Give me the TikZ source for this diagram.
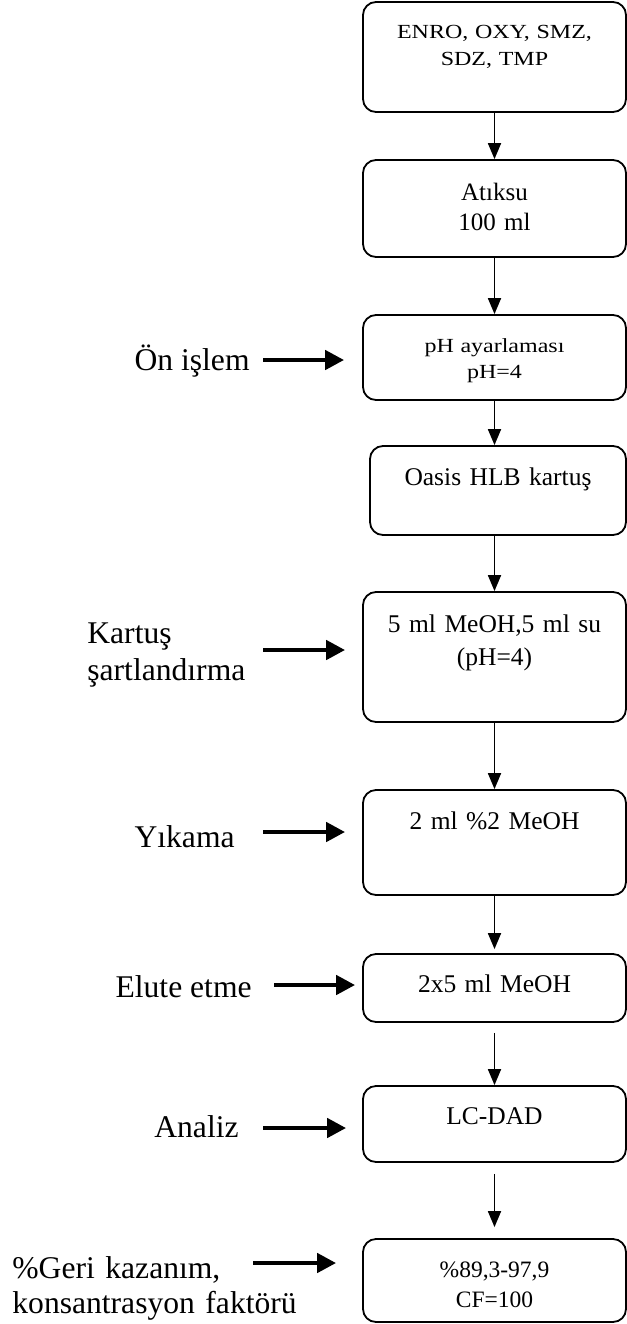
\documentclass[tikz,border=0pt]{standalone}
\usepackage{fontspec}
\setmainfont{Liberation Serif}
\newfontfamily\widefont[FakeStretch=1.2]{Liberation Serif}
\usetikzlibrary{arrows.meta, positioning}
\tikzset{
    flowchart/.style={x=0.5pt, y=-0.5pt, node distance=24pt},
    stepbox/.style={draw, line width=0.9pt, rounded corners=6.5pt, minimum width=131.5pt, text width=118pt, align=center, inner ysep=10pt, text height=9pt, font=\fontsize{12.75}{15.5}\selectfont},
    smallbox/.style={stepbox, font=\widefont\fontsize{10}{13.5}\selectfont},
    sidelabel/.style={inner sep=0pt, align=left, font=\fontsize{15.8}{18.5}\selectfont},
    flowarrow/.style={-{Triangle[length=8pt, width=6.5pt]}, line width=0.9pt},
    sidearrow/.style={-{Triangle[length=9.5pt, width=9.5pt]}, line width=2.25pt},
}
\begin{document}
\begin{tikzpicture}[flowchart]
    \useasboundingbox (0,0) rectangle (627,1324);

    % main column
    \node[smallbox, text height=8pt, text depth=27pt]                   (b1) at (494.5,57) {ENRO, OXY, SMZ,\\SDZ, TMP};
    \node[stepbox, below=23.1pt of b1, text height=10pt, text depth=18.5pt, font=\fontsize{12.5}{15}\selectfont] (b2) {Atıksu\\100 ml};
    \node[smallbox, below=28.1pt of b2, text height=8.5pt, text depth=14pt, font=\widefont\fontsize{10}{13}\selectfont] (b3) {pH ayarlaması\\pH=4};
    \node[stepbox, below=22.1pt of b3, xshift=1.75pt, minimum width=128pt, text height=9.5pt, text depth=15pt] (b4) {Oasis HLB kartuş};
    \node[stepbox, below=27.6pt of b4, xshift=-1.75pt, text height=10pt, text depth=35pt, font=\fontsize{12.75}{16.5}\selectfont] (b5) {5 ml MeOH,5 ml su\\(pH=4)};
    \node[stepbox, below=33.1pt of b5, text height=9.5pt, text depth=23pt] (b6) {2 ml \%2 MeOH};
    \node[stepbox, below=28.6pt of b6, text depth=5pt]                  (b7) {2x5 ml MeOH};
    \node[stepbox, below=31.1pt of b7, text depth=9pt]                  (b8) {LC-DAD};
    \node[stepbox, below=37.6pt of b8, text depth=12.5pt, font=\fontsize{11.75}{15}\selectfont] (b9) {\%89,3-97,9\\CF=100};

    \draw[flowarrow] (b1) -- (b2);
    \draw[flowarrow] (b2) -- (b3);
    \draw[flowarrow] (b3) -- (b3 |- b4.north);
    \draw[flowarrow] (b4.south -| b5) -- (b5);
    \draw[flowarrow] (b5) -- (b6);
    \draw[flowarrow, shorten >=2pt] (b6) -- (b7);
    \draw[flowarrow, shorten <=5pt] (b7) -- (b8);
    \draw[flowarrow, shorten <=5.5pt, shorten >=5.5pt] (b8) -- (b9);

    % step labels on the left
    \node[sidelabel, anchor=base east] (l3) at (250,370)  {Ön işlem};
    \node[sidelabel, anchor=base west, text width=84pt] (l5) at (87,643) {Kartuş\\şartlandırma};
    \node[sidelabel, anchor=base east] (l6) at (235,847)  {Yıkama};
    \node[sidelabel, anchor=base east] (l7) at (252,997)  {Elute etme};
    \node[sidelabel, anchor=base east] (l8) at (239,1137) {Analiz};
    \node[sidelabel, anchor=base west, text width=150pt, font=\fontsize{15.8}{17.5}\selectfont] (l9) at (12,1278) {\%Geri kazanım,\\konsantrasyon faktörü};

    \coordinate (s3) at (263,360);
    \coordinate (s5) at (263,650);
    \coordinate (s6) at (263,832);
    \coordinate (s7) at (274,985);
    \coordinate (s8) at (263,1128);
    \coordinate (s9) at (253,1263);

    \draw[sidearrow, shorten >=9pt]   (s3) -- (s3 -| b3.west);
    \draw[sidearrow, shorten >=8.5pt] (s5) -- (s5 -| b5.west);
    \draw[sidearrow, shorten >=8.5pt] (s6) -- (s6 -| b6.west);
    \draw[sidearrow, shorten >=3.5pt] (s7) -- (s7 -| b7.west);
    \draw[sidearrow, shorten >=8pt]   (s8) -- (s8 -| b8.west);
    \draw[sidearrow, shorten >=13pt]  (s9) -- (s9 -| b9.west);
\end{tikzpicture}
\end{document}
